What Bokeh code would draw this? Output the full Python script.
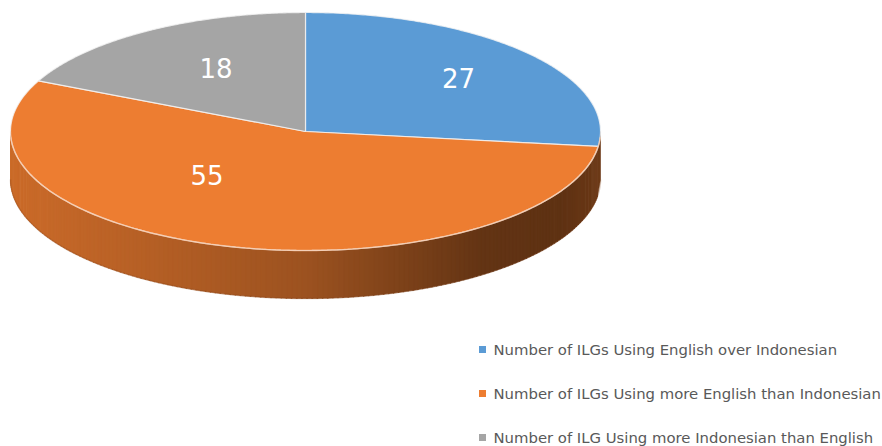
import numpy as np
from bokeh.plotting import figure
from bokeh.models import Range1d
from bokeh.core.properties import value
from bokeh.embed import file_html
from bokeh.resources import INLINE

# ---- data ----
categories = [
    "Number of ILGs Using English over Indonesian",
    "Number of ILGs Using more English than Indonesian",
    "Number of ILG Using more Indonesian than English",
]
values = [27, 55, 18]
slice_colors = ["#5B9BD5", "#ED7D31", "#A5A5A5"]
label_texts = [str(v) for v in values]

# ---- layout (screen pixels) ----
W, H = 882, 446
cx, cy = 305.0, 131.0
rx, ry = 295.0, 119.0
depth = 48.0
# label anchors as fractions of the radii (x right, y up)
label_fx = [0.519, -0.334, -0.303]
label_fy = [0.450, -0.366, 0.534]

p = figure(width=W, height=H, output_backend="svg", toolbar_location=None,
           x_range=Range1d(0, W), y_range=Range1d(H, 0), min_border=0,
           background_fill_color="white", border_fill_color="white")
p.axis.visible = False
p.grid.visible = False
p.outline_line_color = None


def pt(theta, dy=0.0):
    return cx + rx * np.sin(theta), cy - ry * np.cos(theta) + dy


def hex2rgb(h):
    h = h.lstrip("#")
    return np.array([int(h[i:i + 2], 16) for i in (0, 2, 4)], dtype=float)


def rgb2hex(c):
    c = np.clip(c, 0, 255).astype(int)
    return "#%02x%02x%02x" % tuple(c)


shade_u = [0.0, 0.5, 0.8, 0.93, 1.0]
shade_f = [0.86, 0.66, 0.42, 0.40, 0.46]

total = float(sum(values))
bounds = np.concatenate([[0.0], np.cumsum(values) / total * 2 * np.pi])

# ---- sides ----
sx, sy, sc = [], [], []
for i in range(len(values)):
    a0, a1 = bounds[i], bounds[i + 1]
    lo, hi = max(a0, np.pi / 2), min(a1, 3 * np.pi / 2)
    if hi - lo < np.radians(10):
        continue
    n = max(2, int(np.degrees(hi - lo)))
    ts = np.linspace(lo, hi, n + 1)
    # extend the side to the rightmost point so no gap remains
    ts[0] = np.pi / 2 if lo - np.pi / 2 < np.radians(10) else lo
    base = hex2rgb(slice_colors[i])
    for j in range(n):
        t0, t1 = ts[j], min(ts[j + 1] + 0.004, hi)
        x0, y0 = pt(t0)
        x1, y1 = pt(t1)
        sx.append([x0, x1, x1, x0])
        sy.append([y0, y1, y1 + depth, y0 + depth])
        xm = (x0 + x1) / 2
        u = (xm - (cx - rx)) / (2 * rx)
        f = np.interp(u, shade_u, shade_f)
        sc.append(rgb2hex(base * f))
p.patches(sx, sy, fill_color=sc, line_color=sc, line_width=0.6)

# bottom soft shadow edge
tb = np.linspace(np.pi / 2, 3 * np.pi / 2, 200)
bx, by = pt(tb, depth)
p.line(bx, by, line_color="#7a3a12", line_alpha=0.25, line_width=1.5)

# ---- tops ----
tx, ty = [], []
for i in range(len(values)):
    a0, a1 = bounds[i], bounds[i + 1]
    ts = np.linspace(a0, a1, 200)
    xs, ys = pt(ts)
    tx.append([cx] + list(xs))
    ty.append([cy] + list(ys))
p.patches(tx, ty, fill_color=slice_colors, line_color="#f4f4f4",
          line_width=1.2, line_alpha=0.8)

# front edge highlight
tf = np.linspace(np.pi / 2 + 0.05, 3 * np.pi / 2 - 0.05, 200)
fx, fy = pt(tf)
p.line(fx, fy, line_color="#f8cbad", line_alpha=0.7, line_width=1.5)

# ---- data labels ----
lx = [cx + rx * f for f in label_fx]
ly = [cy - ry * f for f in label_fy]
p.text(lx, ly, text=label_texts, text_color="white",
       text_font=value("DejaVu Sans"), text_font_size="26px",
       text_align="center", text_baseline="middle")

# ---- legend ----
leg_x = 482
leg_y = [349, 393, 437]
p.rect([leg_x] * 3, leg_y, width=7, height=7, fill_color=slice_colors,
       line_color=None)
p.text([leg_x + 11] * 3, leg_y, text=categories, text_color="#595959",
       text_font=value("DejaVu Sans"), text_font_size="14.85px",
       text_align="left", text_baseline="middle")

open("out.html", "w").write(file_html(p, INLINE))
